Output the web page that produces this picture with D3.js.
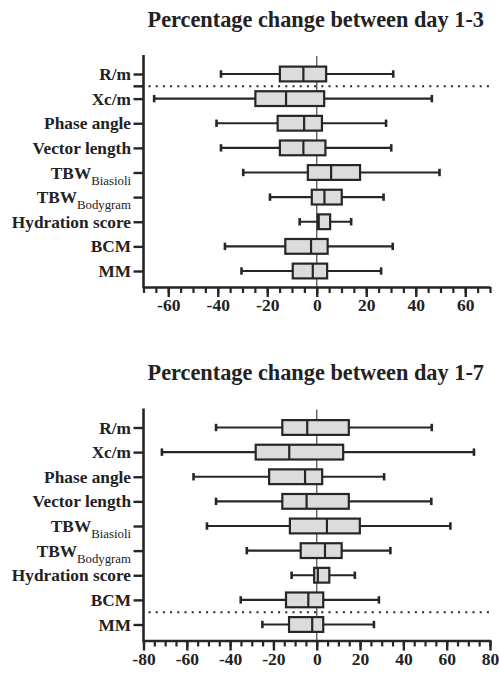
<!DOCTYPE html>
<html>
<head>
<meta charset="utf-8">
<script src="https://cdn.jsdelivr.net/npm/d3@7"></script>
<style>
  body { margin: 0; background: #fff; }
  svg { display: block; }
  text { font-family: "Liberation Serif", "Times New Roman", serif; fill: #222; }
</style>
</head>
<body>
<svg id="chart" width="499" height="676"></svg>
<script>
// categories, top to bottom
const categories = ["R/m", "Xc/m", "Phase angle", "Vector length", "TBW Biasioli", "TBW Bodygram", "Hydration score", "BCM", "MM"];
const labelMain = ["R/m", "Xc/m", "Phase angle", "Vector length", "TBW", "TBW", "Hydration score", "BCM", "MM"];
const labelSub = ["", "", "", "", "Biasioli", "Bodygram", "", "", ""];

// day 1-3 (percent change)
const d13Min = [-38.7, -65.7, -40.5, -38.7, -29.7, -18.9, -6.9, -37.1, -30.4];
const d13Q1 = [-14.9, -24.8, -15.8, -14.9, -3.6, -2.0, 0.4, -12.7, -9.7];
const d13Median = [-5.4, -12.4, -5.1, -5.4, 5.8, 3.1, 0.8, -2.3, -1.6];
const d13Q3 = [3.8, 3.0, 2.1, 3.5, 17.5, 10.1, 5.4, 4.4, 4.2];
const d13Max = [30.9, 46.5, 28.0, 30.1, 49.6, 27.0, 13.9, 30.7, 26.0];

// day 1-7 (percent change)
const d17Min = [-46.5, -71.5, -56.9, -46.5, -50.7, -32.3, -11.6, -35.1, -25.1];
const d17Q1 = [-15.9, -28.2, -22.0, -15.9, -12.4, -7.4, -1.2, -14.2, -12.8];
const d17Median = [-4.4, -12.7, -5.4, -4.7, 4.7, 3.8, 0.5, -3.9, -2.1];
const d17Q3 = [14.8, 12.2, 2.5, 14.8, 19.9, 11.5, 5.8, 3.0, 3.0];
const d17Max = [53.1, 72.6, 31.1, 52.9, 61.7, 34.0, 17.6, 28.7, 26.4];

const xTicks13 = [-60, -40, -20, 0, 20, 40, 60];
const xTicks17 = [-80, -60, -40, -20, 0, 20, 40, 60, 80];

const svg = d3.select("#chart");
svg.append("rect").attr("width", 499).attr("height", 676).attr("fill", "#fff");

const plotLeft = 143.5, plotRight = 490, plotTop = 55, plotBottom = 287;
const ink = "#262626";
const serif = '"Liberation Serif", "Times New Roman", serif';

function drawChart(cfg) {
  const g = svg.append("g").attr("transform", `translate(0,${cfg.offset})`);

  const x = d3.scaleLinear().domain(cfg.domain).range([plotLeft, plotRight]);
  const y = d3.scalePoint().domain(categories).range([74, 271]);
  const step = y.step();
  const boxH = step * 0.6;

  const rows = categories.map((c, i) => ({
    cat: c, min: cfg.min[i], q1: cfg.q1[i], med: cfg.med[i], q3: cfg.q3[i], max: cfg.max[i]
  }));

  g.append("text")
    .attr("x", (plotLeft + plotRight) / 2 - 1)
    .attr("y", 26.7)
    .attr("text-anchor", "middle")
    .style("font-size", "22.3px")
    .style("font-weight", "bold")
    .text(cfg.title);

  // zero line
  g.append("line")
    .attr("x1", x(0)).attr("x2", x(0))
    .attr("y1", plotTop + 1).attr("y2", plotBottom)
    .attr("stroke", "#555").attr("stroke-width", 1.3);

  // separator
  const sepY = y(categories[cfg.sepAfter]) + step / 2;
  g.append("line")
    .attr("x1", plotLeft + 5).attr("x2", plotRight)
    .attr("y1", sepY).attr("y2", sepY)
    .attr("stroke", ink).attr("stroke-width", 2)
    .attr("stroke-dasharray", "2,5.2");
  if (cfg.sepTick) {
    g.append("line")
      .attr("x1", plotLeft - 10).attr("x2", plotLeft)
      .attr("y1", sepY).attr("y2", sepY)
      .attr("stroke", ink).attr("stroke-width", 2.5);
  }

  const box = g.append("g").selectAll("g").data(rows).join("g");

  box.append("line")
    .attr("x1", d => x(d.min)).attr("x2", d => x(d.max))
    .attr("y1", d => y(d.cat)).attr("y2", d => y(d.cat))
    .attr("stroke", ink).attr("stroke-width", 2.2);

  box.selectAll(".cap")
    .data(d => [d.min, d.max].map(v => ({ v, cat: d.cat })))
    .join("line")
    .attr("x1", d => x(d.v)).attr("x2", d => x(d.v))
    .attr("y1", d => y(d.cat) - 3.7).attr("y2", d => y(d.cat) + 3.7)
    .attr("stroke", ink).attr("stroke-width", 2.6);

  box.append("rect")
    .attr("x", d => x(d.q1))
    .attr("width", d => x(d.q3) - x(d.q1))
    .attr("y", d => y(d.cat) - boxH / 2)
    .attr("height", boxH)
    .attr("fill", "#dcdcdc")
    .attr("stroke", ink).attr("stroke-width", 2.2);

  box.append("line")
    .attr("x1", d => x(d.med)).attr("x2", d => x(d.med))
    .attr("y1", d => y(d.cat) - boxH / 2).attr("y2", d => y(d.cat) + boxH / 2)
    .attr("stroke", ink).attr("stroke-width", 2.2);

  // x axis: minor ticks every 5, major every 20
  const minor = d3.range(cfg.domain[0], cfg.domain[1] + 1, 5);
  g.append("g")
    .attr("transform", `translate(0,${plotBottom})`)
    .call(d3.axisBottom(x).tickValues(minor).tickSize(6).tickSizeOuter(0).tickFormat(""))
    .call(a => a.select(".domain").remove())
    .call(a => a.selectAll("line").attr("stroke", ink).attr("stroke-width", 2.2));

  g.append("g")
    .attr("transform", `translate(0,${plotBottom})`)
    .call(d3.axisBottom(x).tickValues(cfg.ticks).tickSize(10).tickSizeOuter(0).tickPadding(2).tickFormat(d => String(d)))
    .call(a => a.select(".domain").attr("stroke", ink).attr("stroke-width", 2.6))
    .call(a => a.selectAll("line").attr("stroke", ink).attr("stroke-width", 2.4))
    .call(a => a.selectAll("text")
      .style("font-family", serif)
      .style("font-size", "17.5px").style("font-weight", "bold").attr("fill", "#222"));

  // y axis
  const yAxis = g.append("g")
    .attr("transform", `translate(${plotLeft},0)`)
    .call(d3.axisLeft(y).tickSize(10).tickPadding(2.5).tickFormat(""));
  yAxis.select(".domain").remove();
  yAxis.selectAll("line").attr("stroke", ink).attr("stroke-width", 2.4);
  yAxis.selectAll(".tick text").each(function (d, i) {
    const t = d3.select(this)
      .attr("fill", "#222")
      .style("font-family", serif)
      .style("font-size", "17.3px").style("font-weight", "bold");
    t.append("tspan").text(labelMain[i]);
    if (labelSub[i]) {
      t.append("tspan").attr("dy", "6").style("font-size", "12.8px").style("font-weight", "normal").text(labelSub[i]);
    }
  });
  g.append("line")
    .attr("x1", plotLeft).attr("x2", plotLeft)
    .attr("y1", plotTop).attr("y2", plotBottom + 1.3)
    .attr("stroke", ink).attr("stroke-width", 2.6);
}

drawChart({
  title: "Percentage change between day 1-3", offset: 0, domain: [-70, 70], ticks: xTicks13,
  sepAfter: 0, sepTick: true,
  min: d13Min, q1: d13Q1, med: d13Median, q3: d13Q3, max: d13Max
});
drawChart({
  title: "Percentage change between day 1-7", offset: 353.5, domain: [-80, 80], ticks: xTicks17,
  sepAfter: 7, sepTick: false,
  min: d17Min, q1: d17Q1, med: d17Median, q3: d17Q3, max: d17Max
});
</script>
</body>
</html>
